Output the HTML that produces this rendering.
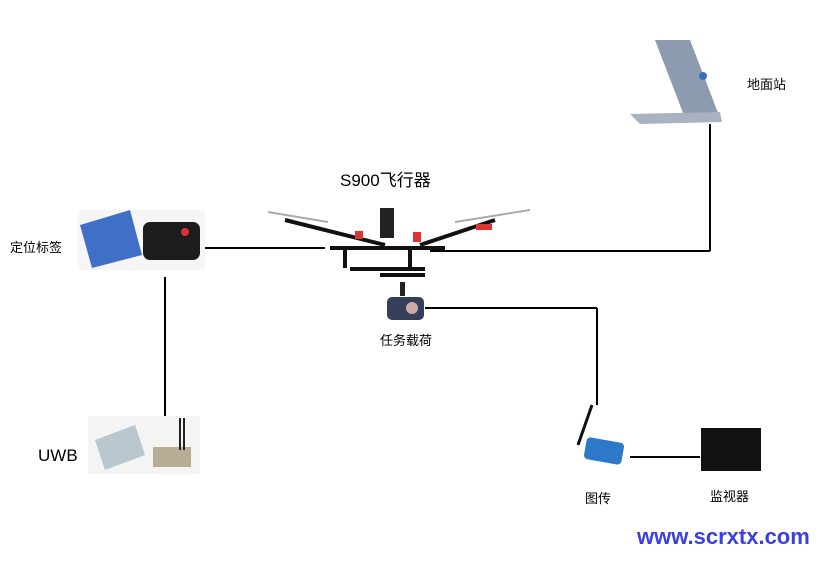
<!DOCTYPE html>
<html><head><meta charset="utf-8"><style>
body{margin:0;background:#fff;width:827px;height:577px;overflow:hidden;position:relative;font-family:"Liberation Sans","Noto Sans CJK SC",sans-serif}
.t{position:absolute;font-size:13px;color:#000;white-space:nowrap}
</style></head><body>
<svg width="827" height="577" style="position:absolute;left:0;top:0">
<g stroke="#000" stroke-width="2" fill="none">
<line x1="195" y1="248" x2="325" y2="248"/>
<line x1="430" y1="251" x2="710" y2="251"/>
<line x1="710" y1="251" x2="710" y2="124"/>
<line x1="165" y1="277" x2="165" y2="416"/>
<line x1="425" y1="308" x2="597" y2="308"/>
<line x1="597" y1="308" x2="597" y2="405"/>
<line x1="630" y1="457" x2="700" y2="457"/>
</g>
<polygon points="655,40 690,40 720,118 685,118" fill="#8d9bb0"/>
<polygon points="630,114 720,112 722,122 640,124" fill="#a9b2c0"/>
<circle cx="703" cy="76" r="4" fill="#3a6fb5"/>
<rect x="78" y="210" width="127" height="60" fill="#f6f6f6"/>
<polygon points="80,225 130,210 142,255 92,268" fill="#3f6fc7"/>
<rect x="143" y="222" width="57" height="38" rx="7" fill="#1d1d1d"/>
<circle cx="185" cy="232" r="4" fill="#d33"/>
<g stroke="#111" stroke-width="4" fill="none">
<line x1="285" y1="220" x2="385" y2="245"/>
<line x1="495" y1="220" x2="420" y2="245"/>
<line x1="330" y1="248" x2="445" y2="248"/>
<line x1="345" y1="250" x2="345" y2="268"/>
<line x1="410" y1="250" x2="410" y2="268"/>
<line x1="350" y1="269" x2="425" y2="269"/>
<line x1="380" y1="275" x2="425" y2="275"/>
</g>
<g stroke="#aaa" stroke-width="2"><line x1="268" y1="212" x2="328" y2="222"/><line x1="455" y1="222" x2="530" y2="210"/></g>
<rect x="380" y="208" width="14" height="30" fill="#222"/>
<rect x="355" y="231" width="8" height="8" fill="#d33"/><rect x="413" y="232" width="8" height="10" fill="#d33"/>
<rect x="476" y="224" width="16" height="6" fill="#d33"/>
<rect x="400" y="282" width="5" height="14" fill="#222"/>
<rect x="387" y="297" width="37" height="23" rx="5" fill="#34405a"/>
<circle cx="412" cy="308" r="6" fill="#caa"/>
<rect x="88" y="416" width="112" height="58" fill="#f4f4f4"/>
<polygon points="95,440 135,425 145,455 105,470" fill="#b9c7cf"/>
<rect x="153" y="447" width="38" height="20" fill="#b8ad95"/>
<line x1="180" y1="418" x2="180" y2="450" stroke="#222" stroke-width="2"/>
<line x1="184" y1="418" x2="184" y2="450" stroke="#222" stroke-width="2"/>
<line x1="578" y1="445" x2="592" y2="405" stroke="#111" stroke-width="3"/>
<rect x="585" y="440" width="38" height="22" rx="4" fill="#2d78c8" transform="rotate(10 604 451)"/>
<rect x="701" y="428" width="60" height="43" fill="#111"/>
</svg>
<div class="t" style="left:747px;top:74px">地面站</div>
<div class="t" style="left:340px;top:166px;font-size:17px">S900飞行器</div>
<div class="t" style="left:10px;top:237px">定位标签</div>
<div class="t" style="left:380px;top:330px">任务载荷</div>
<div class="t" style="left:38px;top:446px;font-size:17px">UWB</div>
<div class="t" style="left:585px;top:488px">图传</div>
<div class="t" style="left:710px;top:486px">监视器</div>
<div class="t" style="left:637px;top:524px;font-size:22px;font-weight:bold;color:#3b3ee0">www.scrxtx.com</div>
</body></html>
